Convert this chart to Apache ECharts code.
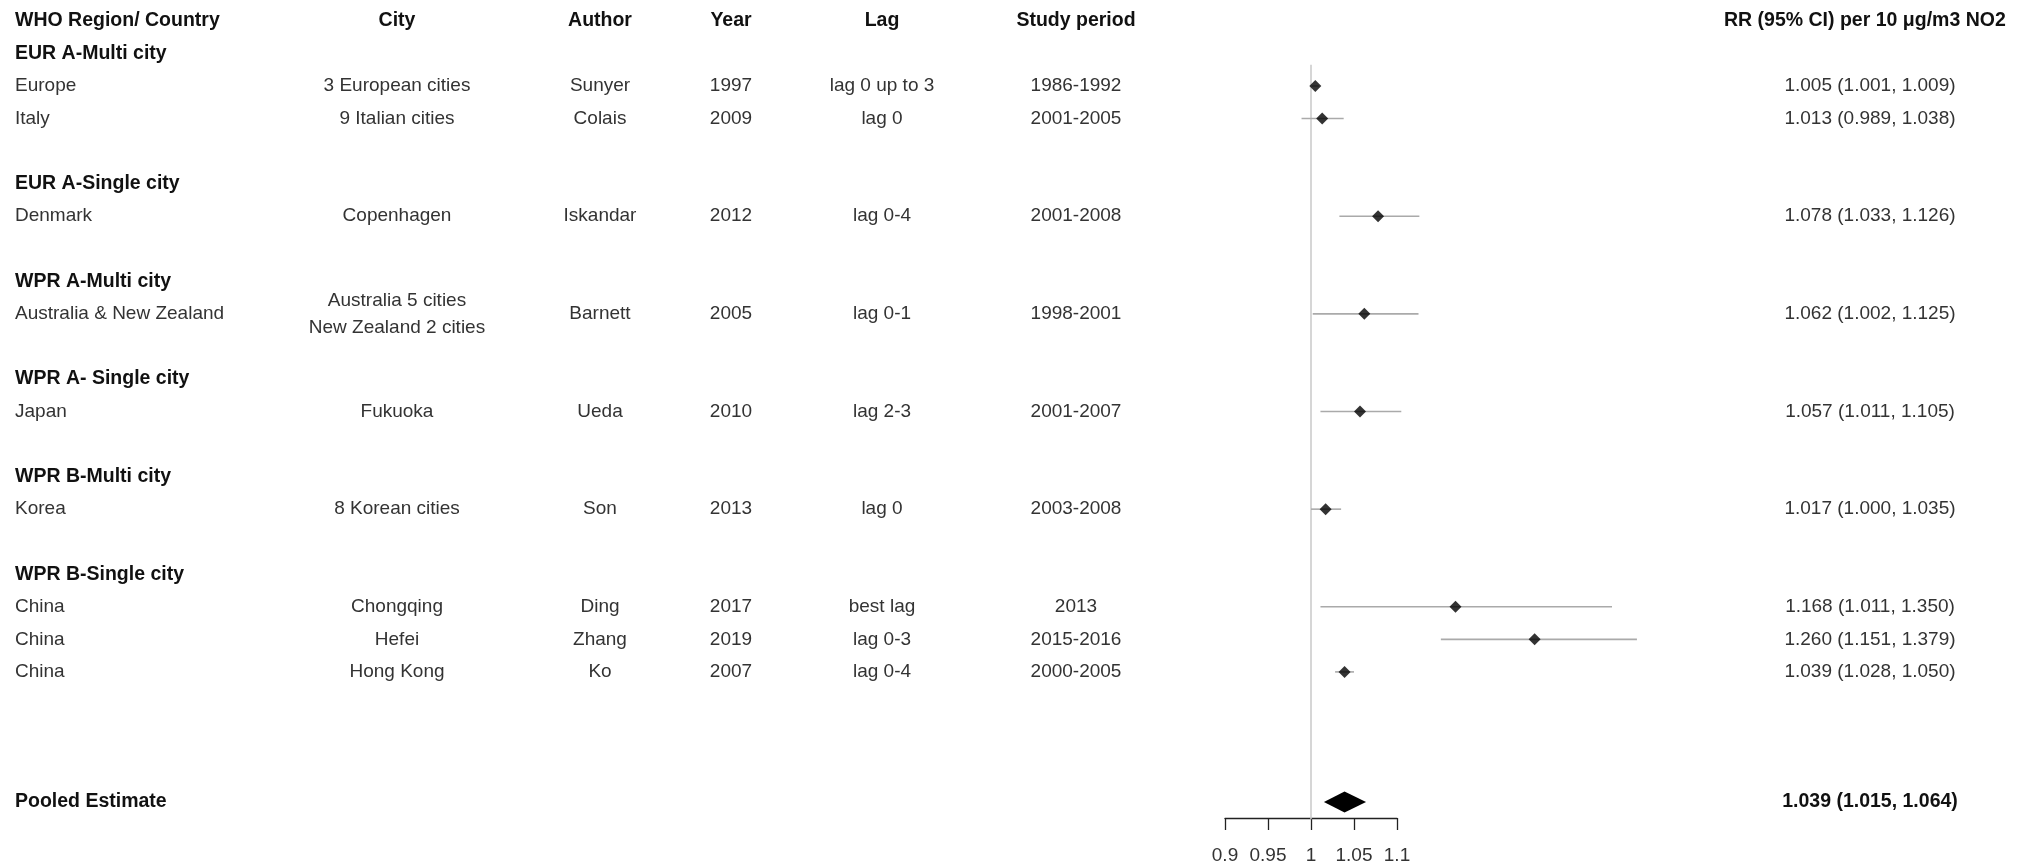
<!DOCTYPE html>
<html>
<head>
<meta charset="utf-8">
<script src="https://cdn.jsdelivr.net/npm/echarts@6/dist/echarts.min.js"></script>
<style>
html,body{margin:0;padding:0;background:#fff;}
#chart{width:2037px;height:865px;}
</style>
</head>
<body>
<div id="chart"></div>
<script>
// ---------- data ----------
const headers = ['WHO Region/ Country', 'City', 'Author', 'Year', 'Lag', 'Study period', 'RR (95% CI) per 10 \u03bcg/m3 NO2'];
const groups = ['EUR A-Multi city', 'EUR A-Single city', 'WPR A-Multi city', 'WPR A- Single city', 'WPR B-Multi city', 'WPR B-Single city'];
const studyGroup = [0, 0, 1, 2, 3, 4, 5, 5, 5];
const countries = ['Europe', 'Italy', 'Denmark', 'Australia & New Zealand', 'Japan', 'Korea', 'China', 'China', 'China'];
const cities = ['3 European cities', '9 Italian cities', 'Copenhagen', 'Australia 5 cities\nNew Zealand 2 cities', 'Fukuoka', '8 Korean cities', 'Chongqing', 'Hefei', 'Hong Kong'];
const authors = ['Sunyer', 'Colais', 'Iskandar', 'Barnett', 'Ueda', 'Son', 'Ding', 'Zhang', 'Ko'];
const years = ['1997', '2009', '2012', '2005', '2010', '2013', '2017', '2019', '2007'];
const lags = ['lag 0 up to 3', 'lag 0', 'lag 0-4', 'lag 0-1', 'lag 2-3', 'lag 0', 'best lag', 'lag 0-3', 'lag 0-4'];
const periods = ['1986-1992', '2001-2005', '2001-2008', '1998-2001', '2001-2007', '2003-2008', '2013', '2015-2016', '2000-2005'];
const rr    = [1.005, 1.013, 1.078, 1.062, 1.057, 1.017, 1.168, 1.260, 1.039];
const lower = [1.001, 0.989, 1.033, 1.002, 1.011, 1.000, 1.011, 1.151, 1.028];
const upper = [1.009, 1.038, 1.126, 1.125, 1.105, 1.035, 1.350, 1.379, 1.050];
const pooledLabel = 'Pooled Estimate';
const pooledRR = 1.039, pooledLower = 1.015, pooledUpper = 1.064;
const nullEffect = 1;
const xTickValues = [0.9, 0.95, 1, 1.05, 1.1];
const xTickLabels = ['0.9', '0.95', '1', '1.05', '1.1'];

// ---------- layout ----------
const FAMILY = 'Arial, "Liberation Sans", sans-serif';
const FONT = '19px ' + FAMILY;
const FONT_B = 'bold 19.5px ' + FAMILY;
const TXT = '#333333', TXT_B = '#111111';
const colX = [15, 397, 600, 731, 882, 1076, 1870];
const colAlign = ['left', 'center', 'center', 'center', 'center', 'center', 'center'];
const headerRRLeft = 1724;
const rowPitch = 32.55, firstRowY = 20.9, nRows = 25;
const plotLeft = 1225, pxPerUnit = 860, xMin = 0.9, xMax = 1.4;
const axisLineY = 819.3;
const pooledHalfH = 10.5;

// row positions
const studyRow = [];
const groupRow = [];
let r = 1;
groups.forEach((g, gi) => {
  groupRow.push(r);
  let k = r + 1;
  studyGroup.forEach((sg, si) => { if (sg === gi) { studyRow[si] = k; k++; } });
  r = k + 1;
});
const pooledRow = Math.max.apply(null, studyRow) + 4;
const refTop = 1.35;
const refBottom = (axisLineY - firstRowY) / rowPitch;

function fmt(a, b, c) { return a.toFixed(3) + ' (' + b.toFixed(3) + ', ' + c.toFixed(3) + ')'; }

// text items
const texts = [];
headers.forEach((h, i) => {
  if (i === 6) texts.push({ row: 0, x: headerRRLeft, align: 'left', text: h, bold: true });
  else texts.push({ row: 0, x: colX[i], align: colAlign[i], text: h, bold: true });
});
groups.forEach((g, gi) => texts.push({ row: groupRow[gi], x: colX[0], align: 'left', text: g, bold: true }));
countries.forEach((c, i) => {
  const cols = [c, cities[i], authors[i], years[i], lags[i], periods[i], fmt(rr[i], lower[i], upper[i])];
  cols.forEach((t, ci) => texts.push({ row: studyRow[i], x: colX[ci], align: colAlign[ci], text: t, bold: false }));
});
texts.push({ row: pooledRow, x: colX[0], align: 'left', text: pooledLabel, bold: true });
texts.push({ row: pooledRow, x: colX[6], align: 'center', text: fmt(pooledRR, pooledLower, pooledUpper), bold: true });

const chart = echarts.init(document.getElementById('chart'), null, { renderer: 'canvas' });
const gridHeight = rowPitch * nRows;

const option = {
  animation: false,
  backgroundColor: '#ffffff',
  grid: [
    { left: plotLeft, width: (xMax - xMin) * pxPerUnit, top: firstRowY, height: gridHeight },
    { left: plotLeft, width: (xTickValues[xTickValues.length - 1] - xTickValues[0]) * pxPerUnit, top: 600, height: axisLineY - 600 }
  ],
  xAxis: [
    { gridIndex: 0, type: 'value', min: xMin, max: xMax, show: false },
    {
      gridIndex: 1, type: 'value', min: xTickValues[0], max: xTickValues[xTickValues.length - 1], interval: 0.05,
      position: 'bottom',
      axisLine: { show: true, lineStyle: { color: '#222', width: 1.3 } },
      axisTick: { show: true, length: 12, lineStyle: { color: '#222', width: 1.3 } },
      axisLabel: {
        show: true, margin: 28, color: TXT, fontSize: 19, fontFamily: FAMILY,
        formatter: function (v) {
          const i = xTickValues.findIndex(t => Math.abs(t - v) < 1e-9);
          return i >= 0 ? xTickLabels[i] : '';
        }
      },
      splitLine: { show: false }
    }
  ],
  yAxis: [
    { gridIndex: 0, type: 'value', min: 0, max: nRows, inverse: true, show: false },
    { gridIndex: 1, type: 'value', min: 0, max: 1, show: false }
  ],
  series: [
    {
      type: 'line', xAxisIndex: 0, yAxisIndex: 0, silent: true, symbol: 'none', z: 1,
      data: [[nullEffect, refTop], [nullEffect, refBottom]],
      lineStyle: { color: '#c8c8c8', width: 1.5 }
    },
    {
      type: 'custom', xAxisIndex: 0, yAxisIndex: 0, silent: true, z: 2,
      data: rr.map((v, i) => [lower[i], upper[i], studyRow[i]]),
      renderItem: function (params, api) {
        const p1 = api.coord([api.value(0), api.value(2)]);
        const p2 = api.coord([api.value(1), api.value(2)]);
        return { type: 'line', shape: { x1: p1[0], y1: p1[1], x2: p2[0], y2: p2[1] }, style: { stroke: '#aaaaaa', lineWidth: 1.6 } };
      }
    },
    {
      type: 'scatter', xAxisIndex: 0, yAxisIndex: 0, silent: true, z: 3,
      symbol: 'diamond', symbolSize: 12,
      itemStyle: { color: '#000' },
      data: rr.map((v, i) => [v, studyRow[i]])
    },
    {
      type: 'custom', xAxisIndex: 0, yAxisIndex: 0, silent: true, z: 3,
      data: [[pooledLower, pooledRR, pooledUpper, pooledRow]],
      renderItem: function (params, api) {
        const l = api.coord([api.value(0), api.value(3)]);
        const c = api.coord([api.value(1), api.value(3)]);
        const u = api.coord([api.value(2), api.value(3)]);
        return {
          type: 'polygon',
          shape: { points: [[l[0], l[1]], [c[0], c[1] - pooledHalfH], [u[0], u[1]], [c[0], c[1] + pooledHalfH]] },
          style: { fill: '#000' }
        };
      }
    },
    {
      type: 'custom', xAxisIndex: 0, yAxisIndex: 0, silent: true, z: 4, clip: false,
      data: texts.map((t, i) => [xMin, t.row, i]),
      renderItem: function (params, api) {
        const t = texts[params.dataIndex];
        const y = api.coord([xMin, api.value(1)])[1];
        return {
          type: 'text', x: t.x, y: y,
          style: {
            text: t.text, font: t.bold ? FONT_B : FONT, fill: t.bold ? TXT_B : TXT,
            align: t.align, verticalAlign: 'middle', lineHeight: 27
          }
        };
      }
    },
    { type: 'scatter', xAxisIndex: 1, yAxisIndex: 1, data: [], silent: true }
  ]
};
chart.setOption(option);
</script>
</body>
</html>
